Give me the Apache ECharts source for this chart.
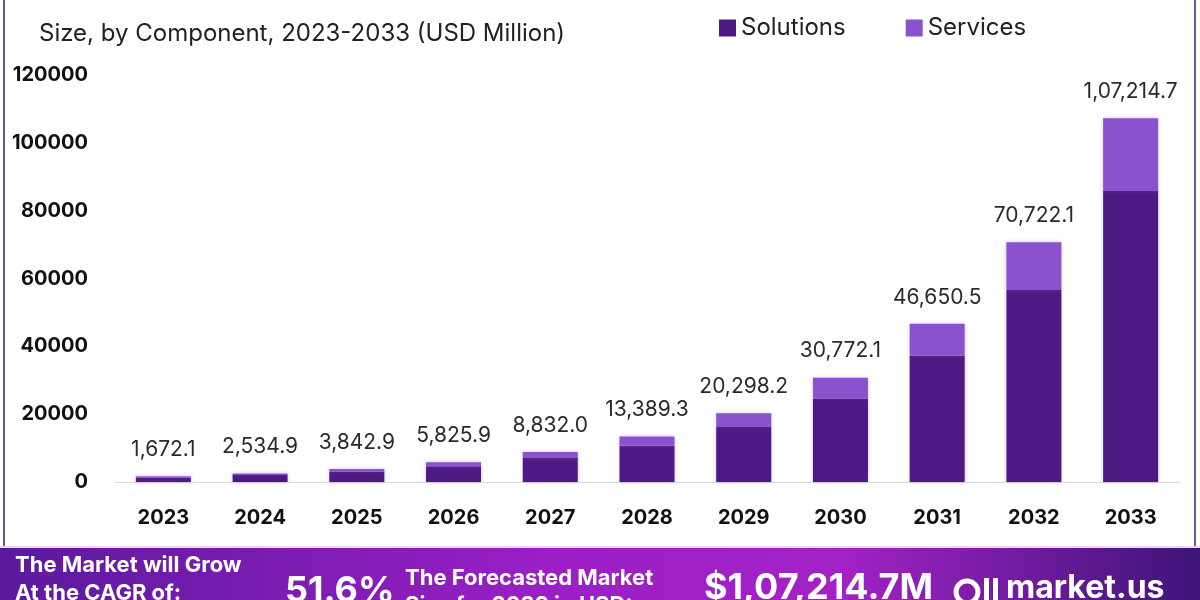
<!DOCTYPE html>
<html>
<head>
<meta charset="utf-8">
<script src="https://cdn.jsdelivr.net/npm/echarts@6/dist/echarts.min.js"></script>
<style>
  html, body { margin: 0; padding: 0; background: #fff; }
  #chart { width: 1200px; height: 600px; }
</style>
</head>
<body>
<div id="chart"></div>
<script>
const years = ['2023', '2024', '2025', '2026', '2027', '2028', '2029', '2030', '2031', '2032', '2033']
const solutions = [1340, 2030, 3080, 4660, 7070, 10710, 16240, 24620, 37320, 56580, 85770]
const services = [332.1, 504.9, 762.9, 1165.9, 1762.0, 2679.3, 4058.2, 6152.1, 9330.5, 14142.1, 21444.7]
const totalLabels = ['1,672.1', '2,534.9', '3,842.9', '5,825.9', '8,832.0', '13,389.3', '20,298.2', '30,772.1', '46,650.5', '70,722.1', '1,07,214.7']
const yTicks = [0, 20000, 40000, 60000, 80000, 100000, 120000]

const font = 'Inter, "Noto Sans", sans-serif'
const chart = echarts.init(document.getElementById('chart'), null, { renderer: 'canvas' })

chart.setOption({
  animation: false,
  backgroundColor: '#ffffff',
  textStyle: { fontFamily: font },
  grid: { left: 115, right: 21, top: 75, bottom: 118 },
  legend: {
    data: ['Solutions', 'Services'],
    left: 714,
    top: 11,
    itemWidth: 17,
    itemHeight: 17,
    itemGap: 60,
    icon: 'rect',
    textStyle: { fontSize: 24, color: '#222', fontFamily: font }
  },
  xAxis: {
    type: 'category',
    data: years,
    axisLine: { lineStyle: { color: '#d8d8d8', width: 1 } },
    axisTick: { show: false },
    axisLabel: { fontSize: 20, fontWeight: 'bold', color: '#111', margin: 26, fontFamily: font }
  },
  yAxis: {
    type: 'value',
    min: yTicks[0],
    max: yTicks[yTicks.length - 1],
    interval: 20000,
    splitLine: { show: false },
    axisLine: { show: false },
    axisLabel: {
      fontSize: 20,
      fontWeight: 'bold',
      color: '#111',
      margin: 27,
      fontFamily: font,
      formatter: (v) => String(v)
    }
  },
  series: [
    {
      name: 'Solutions',
      type: 'bar',
      stack: 'total',
      data: solutions,
      barWidth: 55,
      itemStyle: { color: '#4c1a82', shadowColor: 'rgba(140,90,210,0.35)', shadowBlur: 4 }
    },
    {
      name: 'Services',
      type: 'bar',
      stack: 'total',
      data: services,
      barWidth: 55,
      itemStyle: { color: '#8b52cd', shadowColor: 'rgba(140,90,210,0.35)', shadowBlur: 4 },
      label: {
        show: true,
        position: 'top',
        distance: 16,
        fontSize: 21,
        color: '#2a2a2a',
        fontFamily: font,
        formatter: (p) => totalLabels[p.dataIndex]
      }
    }
  ],
  title: {
    text: 'Size, by Component, 2023-2033 (USD Million)',
    left: 34,
    top: 17,
    textStyle: { fontSize: 24, fontWeight: 'normal', color: '#222', fontFamily: font }
  },
  graphic: [
    { type: 'rect', shape: { x: 3, y: 0, width: 2, height: 548 }, style: { fill: '#6d55a0' } },
    { type: 'rect', shape: { x: 1194, y: 0, width: 2, height: 548 }, style: { fill: '#6d55a0' } },
    {
      type: 'rect',
      shape: { x: 0, y: 548, width: 1200, height: 52 },
      style: {
        fill: new echarts.graphic.LinearGradient(0, 0, 1, 0, [
          { offset: 0, color: '#5a1a9e' },
          { offset: 0.45, color: '#9a1fc4' },
          { offset: 0.7, color: '#a322c6' },
          { offset: 1, color: '#3e1578' }
        ])
      }
    },
    { type: 'rect', shape: { x: 0, y: 546, width: 1200, height: 2 }, style: { fill: '#f1d7f5' } },
    { type: 'text', left: 15, top: 554, style: { text: 'The Market will Grow', fill: '#fff', font: 'bold 22px ' + font } },
    { type: 'text', left: 15, top: 582, style: { text: 'At the CAGR of:', fill: '#fff', font: 'bold 22px ' + font } },
    { type: 'text', left: 285, top: 573, style: { text: '51.6%', fill: '#fff', font: 'bold 36px ' + font } },
    { type: 'text', left: 405, top: 567, style: { text: 'The Forecasted Market', fill: '#fff', font: 'bold 22px ' + font } },
    { type: 'text', left: 405, top: 594, style: { text: 'Size for 2033 in USD:', fill: '#fff', font: 'bold 22px ' + font } },
    { type: 'text', left: 704, top: 570, style: { text: '$1,07,214.7M', fill: '#fff', font: 'bold 36px ' + font } },
    { type: 'circle', shape: { cx: 967, cy: 592, r: 11 }, style: { fill: 'none', stroke: '#fff', lineWidth: 5 } },
    { type: 'rect', shape: { x: 984, y: 578, width: 5, height: 22 }, style: { fill: '#fff' } },
    { type: 'rect', shape: { x: 993, y: 578, width: 5, height: 22 }, style: { fill: '#fff' } },
    { type: 'text', left: 1006, top: 572, style: { text: 'market.us', fill: '#fff', font: 'bold 32px ' + font } }
  ]
})
</script>
</body>
</html>
